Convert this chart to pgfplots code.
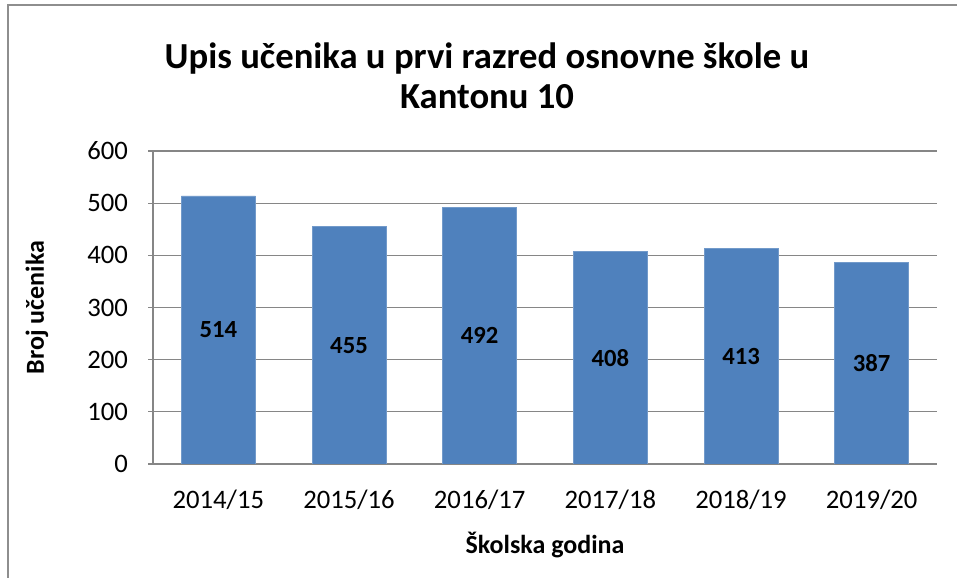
\documentclass[border=0pt]{standalone}
\usepackage{pgfplots}
\pgfplotsset{compat=1.18}
\usepackage{fontspec}
\setmainfont{Carlito}
\definecolor{barblue}{HTML}{4F81BD}
\definecolor{gridgray}{HTML}{868686}
\definecolor{framegray}{HTML}{8E8E8E}
\begin{document}
\begin{tikzpicture}
\useasboundingbox (0,0) rectangle (717.75pt,433.5pt);
\draw[framegray, line width=1.4pt] (6pt,0) -- (6pt,429.75pt) -- (717.75pt,429.75pt);
\node[font=\fontsize{27.5}{33}\selectfont\bfseries, anchor=base] at (365.25pt,382pt) {Upis učenika u prvi razred osnovne škole u};
\node[font=\fontsize{27.5}{33}\selectfont\bfseries, anchor=base] at (365.25pt,352pt) {Kantonu 10};
\begin{axis}[
  at={(114.75pt,85.5pt)}, anchor=south west,
  scale only axis, width=588pt, height=234.75pt,
  ybar, bar width=55.5pt,
  xmin=-0.5, xmax=5.5, ymin=0, ymax=600,
  xtick=data,
  xticklabels={2014/15,2015/16,2016/17,2017/18,2018/19,2019/20},
  ytick={0,100,...,600},
  /pgf/number format/assume math mode=true,
  ticklabel style={font=\fontsize{20}{24}\selectfont},
  x tick style={draw=none},
  y tick style={gridgray, line width=0.8pt},
  tick align=outside, major tick length=3.75pt,
  ymajorgrids, grid style={gridgray, line width=0.8pt},
  axis x line*=bottom, axis y line*=left,
  axis line style={gridgray, line width=0.8pt},
  x axis line style={-}, y axis line style={-},
  xticklabel style={yshift=-12pt},
  yticklabel style={xshift=-11.5pt},
  xlabel={Školska godina}, ylabel={Broj učenika},
  every axis x label/.style={at={(axis description cs:0.5,-0.259)}, anchor=center, font=\fontsize{19.5}{23}\selectfont\bfseries},
  every axis y label/.style={at={(axis description cs:-0.148,0.5)}, anchor=center, rotate=90, font=\fontsize{19.5}{23}\selectfont\bfseries},
  nodes near coords,
  visualization depends on=y \as \rawy,
  every node near coord/.append style={anchor=center, font=\fontsize{18.5}{22}\selectfont\bfseries, shift={(axis direction cs:0,-\rawy/2)}},
]
\addplot[fill=barblue, draw=barblue!80!white] coordinates {(0,514) (1,455) (2,492) (3,408) (4,413) (5,387)};
\end{axis}
\end{tikzpicture}
\end{document}
